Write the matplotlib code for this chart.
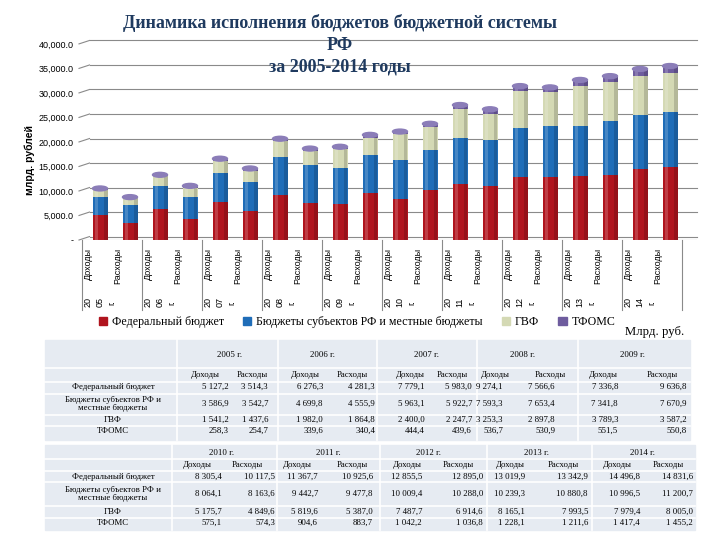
import numpy as np
import matplotlib
matplotlib.use("Agg")
import matplotlib.pyplot as plt
from matplotlib.patches import Ellipse, Rectangle

# --- ДАННЫЕ (млрд. руб.) ---
years = [2005, 2006, 2007, 2008, 2009, 2010, 2011, 2012, 2013, 2014]
fed_inc = [5127.2, 6276.3, 7779.1, 9274.1, 7336.8, 8305.4, 11367.7, 12855.5, 13019.9, 14496.8]
fed_exp = [3514.3, 4281.3, 5983.0, 7566.6, 9636.8, 10117.5, 10925.6, 12895.0, 13342.9, 14831.6]
reg_inc = [3586.9, 4699.8, 5963.1, 7593.3, 7341.8, 8064.1, 9442.7, 10009.4, 10239.3, 10996.5]
reg_exp = [3542.7, 4555.9, 5922.7, 7653.4, 7670.9, 8163.6, 9477.8, 10288.0, 10880.8, 11200.7]
pf_inc = [1541.2, 1982.0, 2400.0, 3253.3, 3789.3, 5175.7, 5819.6, 7487.7, 8165.1, 7979.4]
pf_exp = [1437.6, 1864.8, 2247.7, 2897.8, 3587.2, 4849.6, 5387.0, 6914.6, 7993.5, 8005.0]
oms_inc = [258.3, 339.6, 444.4, 536.7, 551.5, 575.1, 904.6, 1042.2, 1228.1, 1417.4]
oms_exp = [254.7, 340.4, 439.6, 530.9, 550.8, 574.3, 883.7, 1036.8, 1211.6, 1455.2]

series_names = ["Федеральный бюджет", "Бюджеты субъектов РФ и местные бюджеты", "ГВФ", "ТФОМС"]
row_labels = ["Федеральный бюджет", "Бюджеты субъектов РФ и\nместные бюджеты", "ГВФ", "ТФОМС"]
colors = ["#B0141E", "#1F6DB8", "#D4D9B4", "#6E5C9E"]
yticks = [0, 5000, 10000, 15000, 20000, 25000, 30000, 35000, 40000]

SERIF = ["Liberation Serif", "DejaVu Serif"]
SANS = ["Liberation Sans", "DejaVu Sans"]

# чередуем доходы / расходы по годам
def interleave(a, b):
    out = []
    for x, y in zip(a, b):
        out += [x, y]
    return np.array(out)

stack = [interleave(fed_inc, fed_exp), interleave(reg_inc, reg_exp),
         interleave(pf_inc, pf_exp), interleave(oms_inc, oms_exp)]
xpos = np.arange(len(years) * 2)

fig = plt.figure(figsize=(7.2, 5.4), dpi=100)
ax = fig.add_axes([79 / 720, 1 - 240 / 540, 618 / 720, 201 / 540])
ax.set_xlim(-0.7, 19.9)
ax.set_ylim(0, 41000)
for s in ax.spines.values():
    s.set_visible(False)
ax.set_xticks([])
ax.set_yticks(yticks)
ax.set_yticklabels(["-"] + [f"{v:,.1f}" for v in yticks[1:]], fontsize=6.5, family=SANS)
ax.tick_params(axis="y", length=0, pad=4)

# "3D" сетка
off = 700
for v in yticks:
    ax.plot([-0.7, -0.35], [v, v + off], color="#8a8a8a", lw=0.8, clip_on=False)
    ax.plot([-0.35, 19.9], [v + off, v + off], color="#8a8a8a", lw=0.8, clip_on=False, zorder=0)

# столбики-цилиндры
w = 0.5
bottom = np.zeros(len(xpos))
for vals, c in zip(stack, colors):
    ax.bar(xpos, vals, w, bottom=bottom, color=c, zorder=2)
    ax.bar(xpos - w * 0.22, vals, w * 0.22, bottom=bottom, color="white", alpha=0.18, zorder=3)
    ax.bar(xpos + w * 0.38, vals, w * 0.24, bottom=bottom, color="black", alpha=0.15, zorder=3)
    bottom = bottom + vals
cap_h = 1000
for x, top in zip(xpos, bottom):
    ax.add_patch(Ellipse((x, top), w, cap_h, color="#8B7DB8", zorder=4))

# подписи категорий
tr = ax.get_xaxis_transform()
for g, y in enumerate(years):
    ax.plot([2 * g - 0.6] * 2, [0, -0.35], color="#8a8a8a", lw=0.8, transform=tr, clip_on=False)
    ax.text(2 * g - 0.4, -0.04, "Доходы", rotation=90, ha="center", va="top", fontsize=6.5,
            family=SANS, transform=tr)
    ax.text(2 * g + 0.6, -0.04, "Расходы", rotation=90, ha="center", va="top", fontsize=6.5,
            family=SANS, transform=tr)
    yy = str(y)
    for k, part in enumerate([yy[:2], yy[2:], "г."]):
        ax.text(2 * g - 0.4 + 0.4 * k, -0.31, part, rotation=90, ha="center", va="center",
                fontsize=6.5, family=SANS, transform=tr)
ax.plot([19.4] * 2, [0, -0.35], color="#8a8a8a", lw=0.8, transform=tr, clip_on=False)
ax.plot([-0.7, 19.9], [0, 0], color="#8a8a8a", lw=0.8)

fig.text(30 / 720, 1 - 160 / 540, "млрд. рублей", rotation=90, ha="center", va="center",
         fontsize=7.5, fontweight="bold", family=SANS)

fig.text(340 / 720, 1 - 45 / 540, "Динамика исполнения бюджетов бюджетной системы\nРФ\nза 2005-2014 годы",
         ha="center", va="center", fontsize=13, fontweight="bold", family=SERIF, color="#1F3A5F",
         linespacing=1.35)

handles = [Rectangle((0, 0), 1, 1, color=c) for c in colors]
fig.legend(handles, series_names, loc="center", bbox_to_anchor=(357 / 720, 1 - 322 / 540), ncol=4,
           frameon=False, prop={"family": SERIF, "size": 8.6}, handlelength=0.7, handleheight=0.7,
           columnspacing=1.6, handletextpad=0.4)
fig.text(625 / 720, 1 - 332 / 540, "Млрд. руб.", ha="left", va="center", fontsize=9.2, family=SERIF)

# --- таблицы ---
tab = fig.add_axes([0, 0, 1, 1])
tab.set_xlim(0, 720)
tab.set_ylim(540, 0)
tab.axis("off")

def fmt(v):
    return f"{v:,.1f}".replace(",", " ").replace(".", ",")

def draw_table(yrs, inc_rows, exp_rows, box, seps, label_x, year_x, head_x, right_x, ys):
    x0, x1, y0, y1 = box
    tab.add_patch(Rectangle((x0, y0), x1 - x0, y1 - y0, color="#E6EBF2", zorder=0))
    for s in seps:
        tab.plot([s, s], [y0, y1], color="white", lw=1.2)
    for yl in ys["lines"]:
        tab.plot([x0, x1], [yl, yl], color="white", lw=1.2)
    fs = 6.3
    for i, y in enumerate(yrs):
        tab.text(year_x[i], ys["year"], f"{y} г.", ha="center", va="center", fontsize=fs, family=SERIF)
        tab.text(head_x[i][0], ys["head"], "Доходы", ha="center", va="center", fontsize=fs, family=SERIF)
        tab.text(head_x[i][1], ys["head"], "Расходы", ha="center", va="center", fontsize=fs, family=SERIF)
        for r in range(4):
            tab.text(right_x[i][0], ys["rows"][r], fmt(inc_rows[r][i]), ha="right", va="center",
                     fontsize=fs, family=SERIF)
            tab.text(right_x[i][1], ys["rows"][r], fmt(exp_rows[r][i]), ha="right", va="center",
                     fontsize=fs, family=SERIF)
    for r in range(4):
        tab.text(label_x, ys["rows"][r], row_labels[r], ha="center", va="center", fontsize=fs,
                 family=SERIF, linespacing=1.1)

inc_rows = [fed_inc, reg_inc, pf_inc, oms_inc]
exp_rows = [fed_exp, reg_exp, pf_exp, oms_exp]

draw_table(years[:5], [r[:5] for r in inc_rows], [r[:5] for r in exp_rows],
           (45, 690, 340, 440), [177, 278, 377, 477, 578],
           113, [230, 323, 427, 523, 632],
           [(205, 252), (305, 352), (410, 452), (495, 550), (603, 662)],
           [(229, 268), (323, 375), (425, 472), (503, 555), (618, 687)],
           {"year": 355, "head": 375, "rows": [387, 404, 420, 431], "lines": [368, 382, 394, 415, 426]})

draw_table(years[5:], [r[5:] for r in inc_rows], [r[5:] for r in exp_rows],
           (45, 695, 445, 530), [172, 277, 380, 487, 592],
           113, [222, 328, 428, 537, 643],
           [(197, 247), (297, 352), (407, 458), (510, 563), (617, 668)],
           [(222, 275), (318, 373), (422, 483), (525, 588), (640, 693)],
           {"year": 453, "head": 465, "rows": [477, 494, 512, 523], "lines": [459, 471, 482, 506, 518]})

fig.savefig("out.png", dpi=100)
